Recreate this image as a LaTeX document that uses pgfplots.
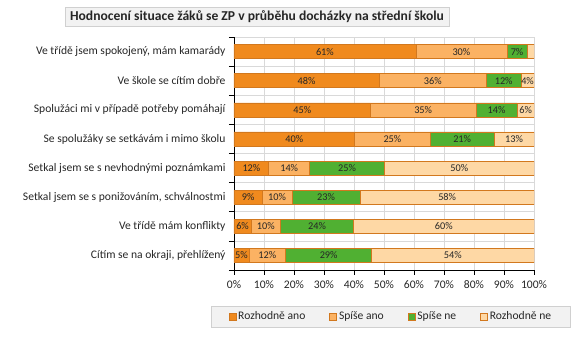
\documentclass[border=0pt]{standalone}
\usepackage{pgfplots}
\pgfplotsset{compat=1.18}
\usepackage{pgfplotstable}
\usepackage{fontspec}
\setmainfont{Carlito}
\definecolor{c1}{HTML}{F08A1E}
\definecolor{c2}{HTML}{FBB263}
\definecolor{c3}{HTML}{50B032}
\definecolor{c4}{HTML}{FED8A5}
\definecolor{bord}{HTML}{D2781E}
\definecolor{gridc}{HTML}{D9D9D9}
\definecolor{boxfill}{HTML}{F2F2F2}
\definecolor{boxdraw}{HTML}{D0D0D0}

\pgfplotstableread{
y a al b bl c cl d dl
7 60.6 61\% 30.4 30\% 6.7 7\% 2.3 {}
6 48.4 48\% 35.7 36\% 11.6 12\% 4.3 4\%
5 45.5 45\% 35.1 35\% 13.8 14\% 5.6 6\%
4 40.2 40\% 25.2 25\% 21.3 21\% 13.3 13\%
3 11.6 12\% 13.6 14\% 25.0 25\% 49.8 50\%
2 9.4 9\% 9.9 10\% 22.8 23\% 57.9 58\%
1 5.7 6\% 9.8 10\% 24.4 24\% 60.1 60\%
0 5.0 5\% 12.2 12\% 28.7 29\% 54.1 54\%
}\data

\pgfplotsset{geom/.style={
  at={(234pt,70pt)}, anchor=south west,
  scale only axis, width=300pt, height=233pt,
  xmin=0, xmax=100, ymin=-0.5, ymax=7.5}}

\begin{document}
\begin{tikzpicture}[x=1pt,y=1pt]
\path[use as bounding box] (0pt,0pt) rectangle (576pt,340pt);
\node[fill=boxfill, draw=boxdraw, minimum height=19pt, inner xsep=5pt, inner ysep=0pt,
  text=black!85] at (257pt,323.5pt)
  {\fontsize{13.6pt}{15pt}\selectfont\bfseries Hodnocení situace žáků se ZP v průběhu docházky na střední školu};
\begin{axis}[
  geom,
  xbar stacked, bar width=14pt,
  axis x line*=bottom, axis y line*=left,
  xtick pos=bottom, ytick pos=left,
  xtick={0,10,...,100},
  xticklabels={0\%,10\%,20\%,30\%,40\%,50\%,60\%,70\%,80\%,90\%,100\%},
  xmajorgrids, ymajorgrids,
  grid style={gridc, line width=0.6pt},
  ytick={-0.5,0.5,...,7.5}, yticklabels={},
  extra y ticks={0,1,2,3,4,5,6,7},
  extra y tick labels={{Cítím se na okraji, přehlížený},{Ve třídě mám konflikty},{Setkal jsem se s ponižováním, schválnostmi},{Setkal jsem se s nevhodnými poznámkami},{Se spolužáky se setkávám i mimo školu},{Spolužáci mi v případě potřeby pomáhají},{Ve škole se cítím dobře},{Ve třídě jsem spokojený, mám kamarády}},
  extra y tick style={major tick length=0pt, grid=none, yticklabel style={xshift=-5pt}},
  tick align=outside, major tick length=5pt,
  tick style={black, line width=0.6pt},
  axis line style={black, line width=0.8pt},
  ticklabel style={font=\fontsize{11.6}{13}\selectfont, text=black!85},
  xticklabel style={yshift=-2pt},
  legend style={at={(0.523,-0.1996)}, anchor=center, legend columns=4,
     fill=boxfill, draw=boxdraw, inner xsep=17pt, inner ysep=4pt,
     font=\fontsize{11.6}{13}\selectfont, text=black!85,
     /tikz/every even column/.append style={column sep=22pt}},
  legend image code/.code={\draw[#1] (0pt,-3.5pt) rectangle (7pt,3.5pt);},
]
\addplot[fill=c1, draw=bord, line width=0.6pt] table[x=a, y=y]{\data};
\addplot[fill=c2, draw=bord, line width=0.6pt] table[x=b, y=y]{\data};
\addplot[fill=c3, draw=bord, line width=0.6pt] table[x=c, y=y]{\data};
\addplot[fill=c4, draw=bord, line width=0.6pt] table[x=d, y=y]{\data};
\legend{Rozhodně ano, Spíše ano, Spíše ne, Rozhodně ne}
\end{axis}
\begin{axis}[
  geom, hide axis,
  point meta=explicit symbolic,
  nodes near coords,
  every node near coord/.append style={anchor=center, inner sep=0pt,
     font=\fontsize{10.3}{12}\selectfont, text=black!85},
]
\addplot[only marks, mark=none] table[x expr=\thisrow{a}/2, y=y, meta=al]{\data};
\addplot[only marks, mark=none] table[x expr=\thisrow{a}+\thisrow{b}/2, y=y, meta=bl]{\data};
\addplot[only marks, mark=none] table[x expr=\thisrow{a}+\thisrow{b}+\thisrow{c}/2, y=y, meta=cl]{\data};
\addplot[only marks, mark=none] table[x expr=\thisrow{a}+\thisrow{b}+\thisrow{c}+\thisrow{d}/2, y=y, meta=dl]{\data};
\end{axis}
\end{tikzpicture}
\end{document}
